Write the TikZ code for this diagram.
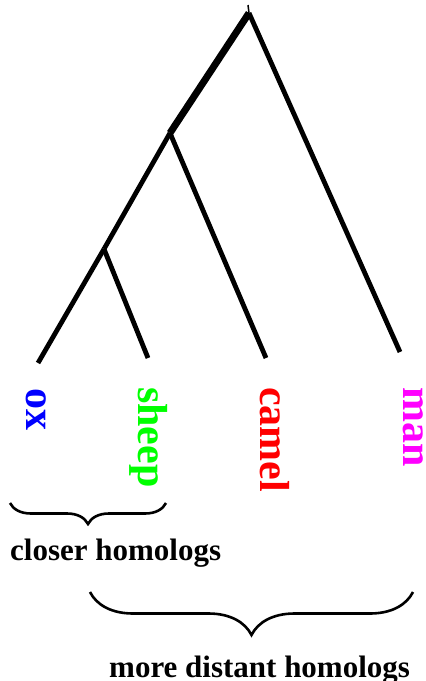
\documentclass[tikz,border=0pt]{standalone}
\usepackage{fontspec}
\setmainfont{Liberation Serif}
\usetikzlibrary{decorations.pathreplacing}
\tikzset{
  branch/.style={line width=4.8pt, line cap=butt},
  stem/.style={line width=7pt, line cap=butt},
  leaf/.style={rotate=-90, anchor=base west, inner sep=0pt, font=\bfseries\fontsize{42}{50}\selectfont},
  caption/.style={anchor=base west, inner sep=0pt, font=\bfseries\fontsize{31}{37}\selectfont},
  bracebig/.style={decorate, decoration={brace, mirror, amplitude=#1}, line width=2.6pt},
}
\begin{document}
\begin{tikzpicture}[x=1pt, y=-1pt]
\useasboundingbox (0,0) rectangle (426,681);
% tree junctions and tips
\coordinate (tick) at (248,5);
\coordinate (root) at (249,13);
\coordinate (n2) at (170,133);
\coordinate (n3) at (104,249);
\coordinate (tox) at (38,363);
\coordinate (tsheep) at (148,358);
\coordinate (tcamel) at (266,358);
\coordinate (tman) at (400,352);
% branches
\draw[line width=1.5pt] (tick) -- (root);
\draw[stem] (root) -- (n2);
\draw[branch] (root) -- (tman);
\draw[branch] (n2) -- (n3);
\draw[branch] (n2) -- (tcamel);
\draw[branch] (n3) -- (tox);
\draw[branch] (n3) -- (tsheep);
% leaf labels
\node[leaf, text={rgb,255:red,0;green,0;blue,255}] (ox) at (27,388) {ox};
\node[leaf, text={rgb,255:red,0;green,255;blue,0}] (sheep) at (138,387) {sheep};
\node[leaf, text={rgb,255:red,255;green,0;blue,0}] (camel) at (260,387) {camel};
\node[leaf, text={rgb,255:red,255;green,0;blue,255}] (man) at (403,387) {man};
% braces
\coordinate (b1l) at (10,503);
\coordinate (b1r) at (166,503);
\coordinate (b2l) at (90,592);
\coordinate (b2r) at (413,592);
\draw[bracebig=21pt] (b1l) -- (b1r);
\draw[bracebig=43pt] (b2l) -- (b2r);
% captions
\node[caption] (close) at (10,560) {closer homologs};
\node[caption] (far) at (109,677) {more distant homologs};
\end{tikzpicture}
\end{document}
